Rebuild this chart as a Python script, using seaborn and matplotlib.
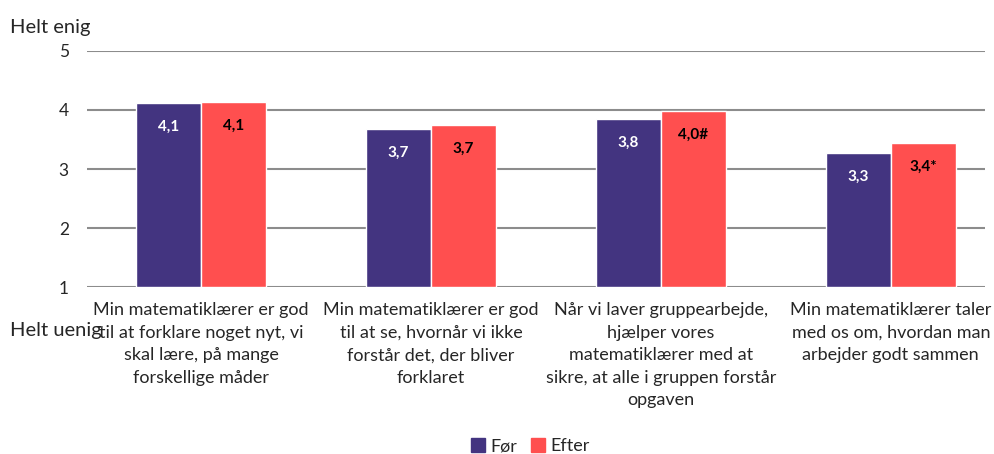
import numpy as np
import pandas as pd
import matplotlib
matplotlib.use('Agg')
import matplotlib.pyplot as plt
import seaborn as sns

categories = [
  'Min matematiklærer er god\ntil at forklare noget nyt, vi\nskal lære, på mange\nforskellige måder',
  'Min matematiklærer er god\ntil at se, hvornår vi ikke\nforstår det, der bliver\nforklaret',
  'Når vi laver gruppearbejde,\nhjælper vores\nmatematiklærer med at\nsikre, at alle i gruppen forstår\nopgaven',
  'Min matematiklærer taler\nmed os om, hvordan man\narbejder godt sammen',
]
for_values = [4.12, 3.68, 3.85, 3.27]
efter_values = [4.13, 3.75, 3.98, 3.44]
for_labels = ['4,1', '3,7', '3,8', '3,3']
efter_labels = ['4,1', '3,7', '4,0#', '3,4*']
series = ['Før', 'Efter']
colors = ['#433480', '#FF4F4F']

sns.set_style('white')
plt.rcParams['font.family'] = ['Lato', 'DejaVu Sans']

df = pd.DataFrame({
  'kategori': categories * 2,
  'serie': [series[0]] * 4 + [series[1]] * 4,
  'værdi': for_values + efter_values,
})
# bars start at 1 (scale 1-5), so plot height above 1
df['højde'] = df['værdi'] - 1

fig = plt.figure(figsize=(9.95, 4.54), dpi=100)
ax = fig.add_axes([0.0874, 0.3678, 0.9026, 0.5199])

sns.barplot(data=df, x='kategori', y='højde', hue='serie', palette=colors,
            width=0.565, saturation=1, bottom=1, ax=ax, legend=False, zorder=3)

ax.set_ylim(1, 5)
ax.set_xlim(-0.496, 3.41)
ax.set_yticks([1, 2, 3, 4, 5])
ax.set_yticklabels(['1', '2', '3', '4', '5'], fontsize=12.5)
ax.yaxis.grid(True, color='#8c8c8c', linewidth=1.5, zorder=0)
ax.tick_params(axis='y', length=0, pad=13)
ax.tick_params(axis='x', length=0, pad=11)
ax.set_xticklabels(categories, fontsize=13, linespacing=1.5)
ax.set_xlabel('')
ax.set_ylabel('')
for s in ax.spines.values():
  s.set_visible(False)

for cont, labs, col in zip(ax.containers, [for_labels, efter_labels], ['white', 'black']):
  for bar, lab in zip(cont, labs):
    x = bar.get_x() + bar.get_width() / 2
    top = bar.get_y() + bar.get_height()
    ax.text(x, top - 0.4, lab, ha='center', va='center', color=col,
            fontsize=11, fontweight='bold', zorder=4)

fig.text(0.01, 0.94, 'Helt enig', fontsize=14.5, va='center')
fig.text(0.01, 0.273, 'Helt uenig', fontsize=14.5, va='center')

handles = [plt.Rectangle((0, 0), 1, 1, color=c) for c in colors]
fig.legend(handles, series, loc='center', bbox_to_anchor=(0.533, 0.017), ncol=2,
           frameon=False, fontsize=13, handlelength=0.75, handleheight=0.75,
           handletextpad=0.3, columnspacing=0.8)

plt.savefig('out.png', dpi=100)
plt.close()
